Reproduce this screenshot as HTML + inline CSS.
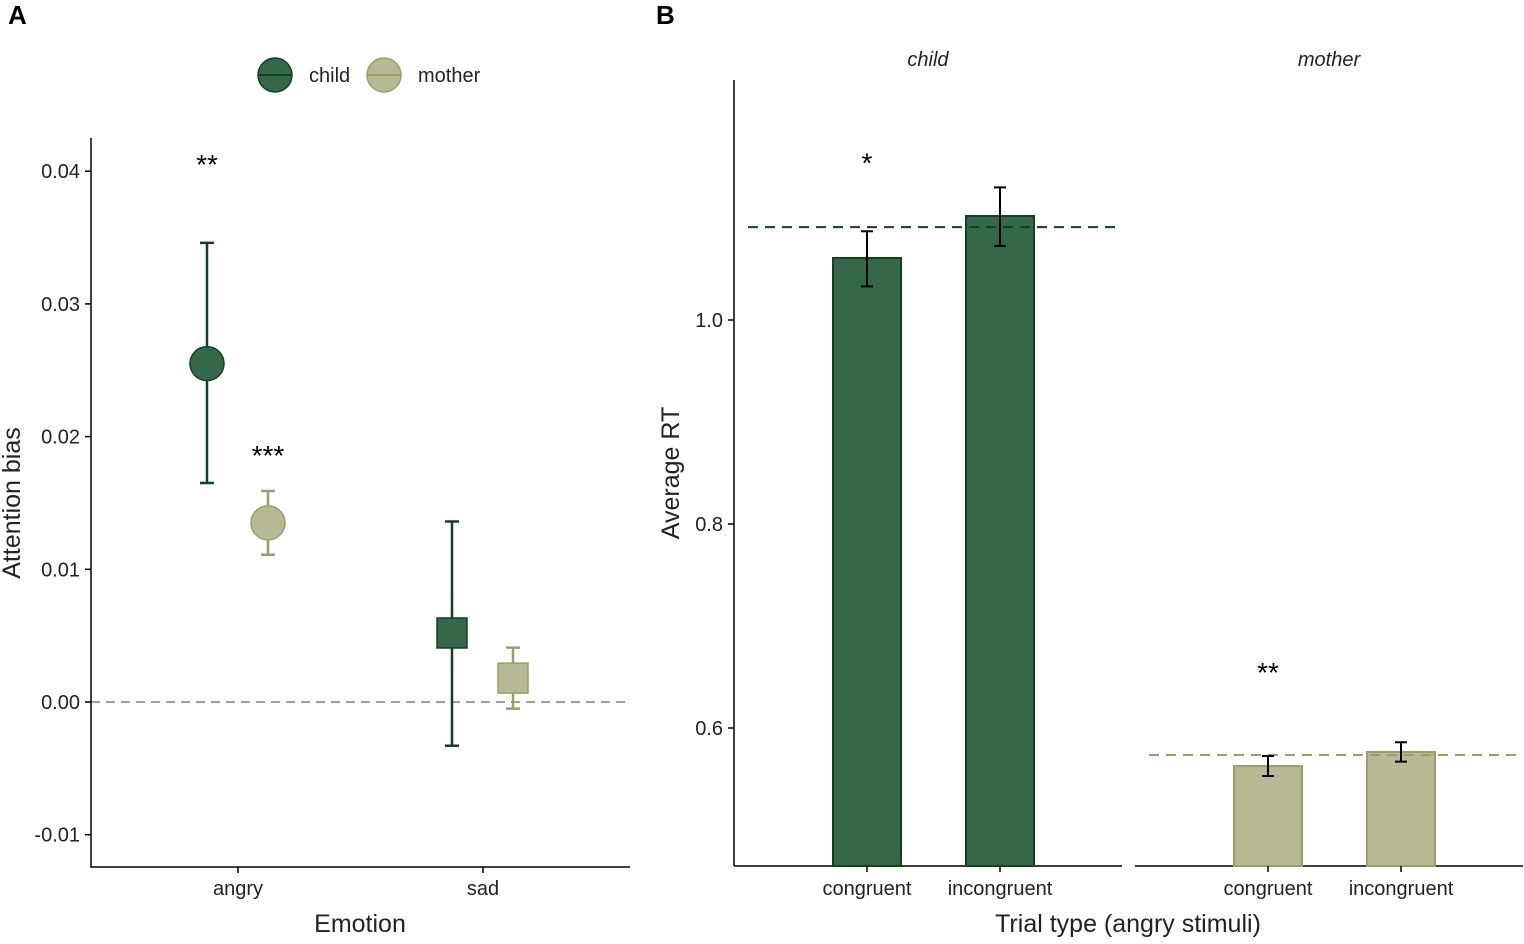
<!DOCTYPE html>
<html><head><meta charset="utf-8"><style>
html,body{margin:0;padding:0;background:#fff}
svg text{font-family:"Liberation Sans",Arial,sans-serif}
</style></head><body>
<svg id="chart" width="1524" height="939" viewBox="0 0 1524 939" xmlns="http://www.w3.org/2000/svg">
<g id="A"></g><g id="B"></g>
</svg>
<script>
// Panel A data
const emotions = ["angry","sad"];
const groups = ["child","mother"];
const biasMean = [[0.0255,0.0135],[0.0052,0.0018]];
const biasLow = [[0.0165,0.0111],[-0.0033,-0.0005]];
const biasHigh = [[0.0346,0.0159],[0.0136,0.0041]];
const biasStars = [["**","***"],["",""]];
const aTicks = [0.04,0.03,0.02,0.01,0.00,-0.01];
const aTickLabels = ["0.04","0.03","0.02","0.01","0.00","-0.01"];
// Panel B data
const trialTypes = ["congruent","incongruent"];
const rtMean = [[1.0608,1.102],[0.5627,0.5765]];
const rtLow = [[1.033,1.0725],[0.553,0.567]];
const rtHigh = [[1.087,1.130],[0.5725,0.586]];
const rtRef = [1.091,0.5735];
const rtStars = [["*",""],["**",""]];
const bTicks = [1.0,0.8,0.6];
const bTickLabels = ["1.0","0.8","0.6"];

const NS="http://www.w3.org/2000/svg";
const fill=["#35684a","#b6b994"], stroke=["#173f22","#9a9e6a"];
function mk(parent,tag,attrs,text){const e=document.createElementNS(NS,tag);for(const k in attrs)e.setAttribute(k,attrs[k]);if(text!==undefined)e.textContent=text;parent.appendChild(e);return e;}
const A=document.getElementById("A"), B=document.getElementById("B");

// Panel A
const yA=v=>702-v*13270;
const xA=(i,g)=>[238,483][i]+(g===0?-31:30);
let t;
t=mk(A,"text",{x:8,y:24,"font-size":26,"font-weight":"bold"},"A");


let l=mk(A,"line",{x1:91,y1:702,x2:630,y2:702,stroke:"#a0a0a0","stroke-width":2,"stroke-dasharray":"9,6"});


mk(A,"path",{d:"M91,138V867H630",fill:"none",stroke:"#000","stroke-width":1.5});
aTicks.forEach((v,i)=>{
  mk(A,"line",{x1:85,x2:91,y1:yA(v),y2:yA(v),stroke:"#000","stroke-width":1.5});
  const tt=mk(A,"text",{x:80,y:yA(v)+7,"text-anchor":"end","font-size":20,fill:"#222"},aTickLabels[i]);
  
  
});
emotions.forEach((e,i)=>{
  mk(A,"line",{x1:[238,483][i],x2:[238,483][i],y1:867,y2:873,stroke:"#000","stroke-width":1.5});
  const tt=mk(A,"text",{x:[238,483][i],y:895,"text-anchor":"middle","font-size":20,fill:"#222"},e);
  
  
  groups.forEach((g,gi)=>{
    const x=xA(i,gi);
    const eb=mk(A,"path",{d:`M${x-7},${yA(biasHigh[i][gi])}H${x+7}M${x},${yA(biasHigh[i][gi])}V${yA(biasLow[i][gi])}M${x-7},${yA(biasLow[i][gi])}H${x+7}`,stroke:stroke[gi],"stroke-width":2.5,fill:"none"});
    
    
    let m;
    if(i===0) m=mk(A,"circle",{cx:x,cy:yA(biasMean[i][gi]),r:17,fill:fill[gi],stroke:stroke[gi],"stroke-width":1.5});
    else m=mk(A,"rect",{x:x-15,y:yA(biasMean[i][gi])-15,width:30,height:30,fill:fill[gi],stroke:stroke[gi],"stroke-width":1.5});
    
    
    if(biasStars[i][gi]){const s=mk(A,"text",{x:x,y:yA(biasHigh[i][gi])-(gi===0?69:26),"text-anchor":"middle","font-size":28},biasStars[i][gi]);
      
      }
  });
});
t=mk(A,"text",{x:360,y:932,"text-anchor":"middle","font-size":25,fill:"#222"},"Emotion");


t=mk(A,"text",{x:0,y:0,"text-anchor":"middle","font-size":25,fill:"#222",transform:"translate(20,503) rotate(-90)"},"Attention bias");


groups.forEach((g,gi)=>{
  const cx=[275,384][gi];
  const lg=mk(A,"g",{});
  
  
  mk(lg,"circle",{cx:cx,cy:75,r:17,fill:fill[gi],stroke:stroke[gi],"stroke-width":1.5});
  mk(lg,"line",{x1:cx-17,x2:cx+17,y1:75,y2:75,stroke:stroke[gi],"stroke-width":2});
  mk(lg,"text",{x:cx+34,y:82,"font-size":20,fill:"#222"},g);
});

// Panel B
const yB=v=>320+(1-v)*1020;
const panels=[[734,1122],[1135,1523]];
const barX=[[867,1000],[1268,1401]];
t=mk(B,"text",{x:656,y:24,"font-size":26,"font-weight":"bold"},"B");


mk(B,"line",{x1:734,x2:734,y1:80,y2:866,stroke:"#000","stroke-width":1.5});
bTicks.forEach((v,i)=>{
  mk(B,"line",{x1:728,x2:734,y1:yB(v),y2:yB(v),stroke:"#000","stroke-width":1.5});
  const tt=mk(B,"text",{x:723,y:yB(v)+7,"text-anchor":"end","font-size":20,fill:"#222"},bTickLabels[i]);
  
  
});
groups.forEach((g,gi)=>{
  const [x0,x1]=panels[gi];
  mk(B,"line",{x1:x0,x2:x1,y1:866,y2:866,stroke:"#000","stroke-width":1.5});
  const st=mk(B,"text",{x:(x0+x1)/2,y:66,"text-anchor":"middle","font-size":20,"font-style":"italic",fill:"#222"},g);
  
  
  trialTypes.forEach((tt,ti)=>{
    const x=barX[gi][ti], top=yB(rtMean[gi][ti]);
    const r=mk(B,"rect",{x:x-34,y:top,width:68,height:866-top,fill:fill[gi],stroke:stroke[gi],"stroke-width":2});
    
    
    mk(B,"line",{x1:x,x2:x,y1:866,y2:872,stroke:"#000","stroke-width":1.5});
    const lab=mk(B,"text",{x:x,y:895,"text-anchor":"middle","font-size":20,fill:"#222"},tt);
    
    
  });
  const rl=mk(B,"line",{x1:x0+14,x2:x1,y1:yB(rtRef[gi]),y2:yB(rtRef[gi]),stroke:stroke[gi],"stroke-width":2,"stroke-dasharray":"10,7"});
  
  
  trialTypes.forEach((tt,ti)=>{
    const x=barX[gi][ti];
    const eb=mk(B,"path",{d:`M${x-6},${yB(rtHigh[gi][ti])}H${x+6}M${x},${yB(rtHigh[gi][ti])}V${yB(rtLow[gi][ti])}M${x-6},${yB(rtLow[gi][ti])}H${x+6}`,stroke:"#000","stroke-width":2,fill:"none"});
    
    
    if(rtStars[gi][ti]){const s=mk(B,"text",{x:x,y:yB(rtHigh[gi][ti])-(gi===0?59:74),"text-anchor":"middle","font-size":28},rtStars[gi][ti]);
      
      }
  });
});
t=mk(B,"text",{x:1128,y:932,"text-anchor":"middle","font-size":25,fill:"#222"},"Trial type (angry stimuli)");


t=mk(B,"text",{x:0,y:0,"text-anchor":"middle","font-size":25,fill:"#222",transform:"translate(679,473) rotate(-90)"},"Average RT");


</script>
</body></html>
